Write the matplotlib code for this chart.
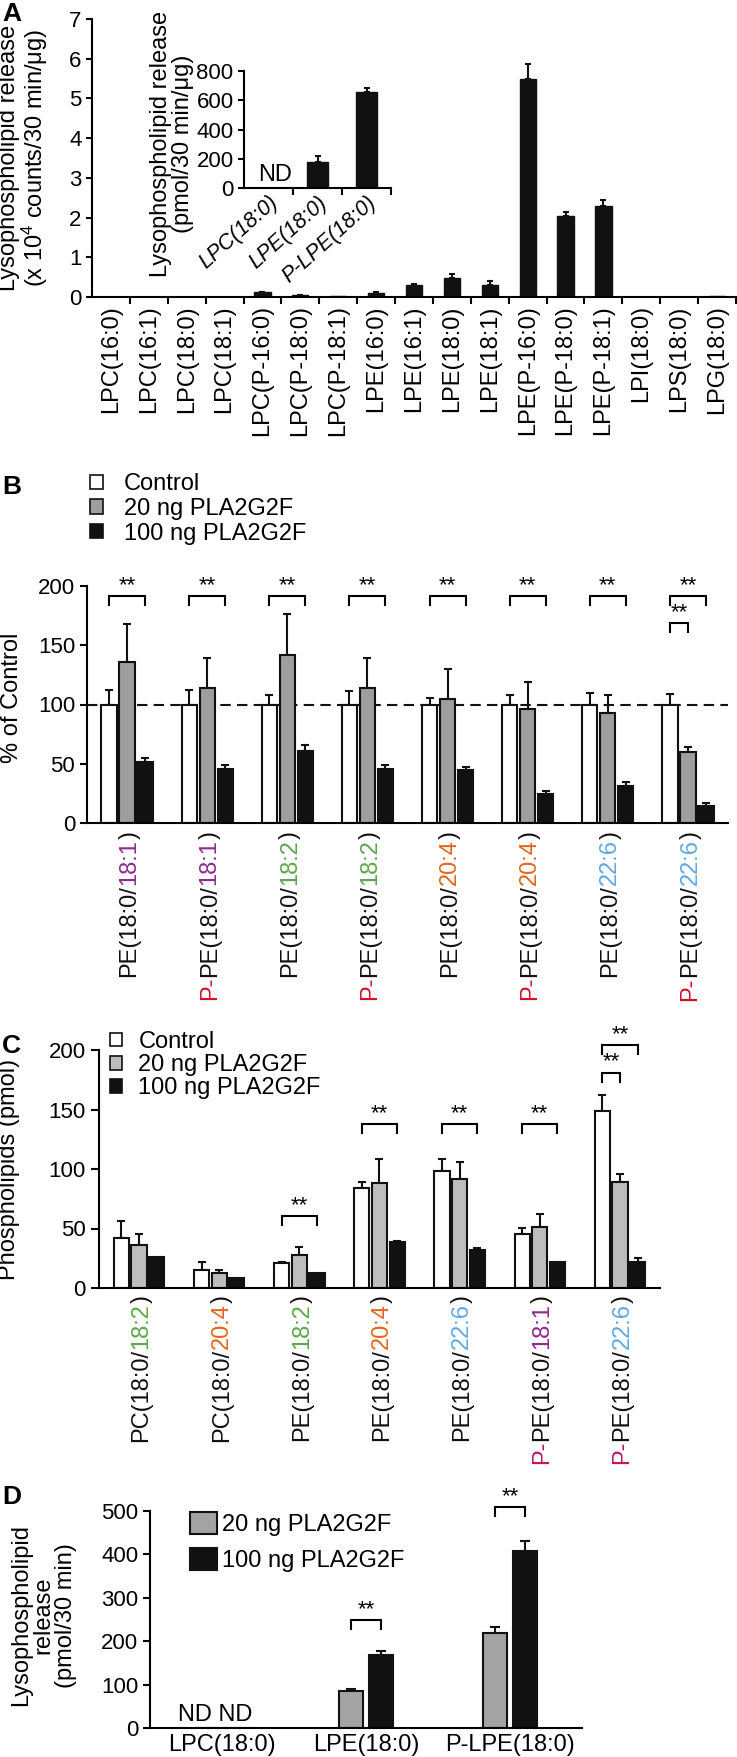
import matplotlib
matplotlib.use('Agg')
import numpy as np
import matplotlib.pyplot as plt
import matplotlib.transforms as mtransforms
from matplotlib.patches import Patch
from matplotlib.font_manager import FontProperties

# ---- data ----
a_labels = ['LPC(16:0)', 'LPC(16:1)', 'LPC(18:0)', 'LPC(18:1)', 'LPC(P-16:0)', 'LPC(P-18:0)',
            'LPC(P-18:1)', 'LPE(16:0)', 'LPE(16:1)', 'LPE(18:0)', 'LPE(18:1)', 'LPE(P-16:0)',
            'LPE(P-18:0)', 'LPE(P-18:1)', 'LPI(18:0)', 'LPS(18:0)', 'LPG(18:0)']
a_vals = [0, 0, 0, 0, 0.12, 0.05, 0.02, 0.10, 0.30, 0.47, 0.29, 5.50, 2.03, 2.30, 0, 0, 0.03]
a_err = [0, 0, 0, 0, 0.01, 0.01, 0, 0.02, 0.02, 0.11, 0.11, 0.37, 0.10, 0.14, 0, 0, 0]

inset_labels = ['LPC(18:0)', 'LPE(18:0)', 'P-LPE(18:0)']
inset_vals = [0, 177, 653]
inset_err = [0, 45, 34]

groups = ['Control', '20 ng PLA2G2F', '100 ng PLA2G2F']

b_class = ['PE', 'P-PE', 'PE', 'P-PE', 'PE', 'P-PE', 'PE', 'P-PE']
b_chain = ['18:1', '18:1', '18:2', '18:2', '20:4', '20:4', '22:6', '22:6']
b_ctrl = [100, 100, 100, 100, 100, 100, 100, 100]
b_ctrl_err = [12, 12, 8, 11, 5.5, 8, 10, 9]
b_20 = [136, 114, 142, 114, 105, 96, 93, 60]
b_20_err = [32, 25, 34, 25, 25, 23, 15, 4]
b_100 = [51.5, 45.5, 61, 45.5, 44.5, 24.5, 31.5, 14.5]
b_100_err = [3.5, 3.5, 4.5, 3.5, 2.5, 2.5, 3.5, 2.5]
# (group, bar a, bar b, bracket top)
b_sig = [(0, 0, 2, 191.5), (1, 0, 2, 191.5), (2, 0, 2, 191.5), (3, 0, 2, 191.5),
         (4, 0, 2, 191.5), (5, 0, 2, 191.5), (6, 0, 2, 191.5), (7, 0, 2, 191.5), (7, 0, 1, 168.5)]

c_class = ['PC', 'PC', 'PE', 'PE', 'PE', 'P-PE', 'P-PE']
c_chain = ['18:2', '20:4', '18:2', '20:4', '22:6', '18:1', '22:6']
c_ctrl = [41.7, 15.4, 21.4, 84, 98.3, 45, 148.6]
c_ctrl_err = [14.5, 6.2, 0.6, 4.7, 10, 5.5, 13.4]
c_20 = [36.3, 12.6, 27.8, 88.3, 91.4, 51.4, 89.4]
c_20_err = [9, 2.8, 6.9, 20.3, 14.4, 10.6, 6.2]
c_100 = [25.7, 8.8, 13, 39, 32, 22.2, 21.7]
c_100_err = [0, 0, 0, 0.8, 2, 0, 3.6]
c_sig = [(2, 0, 2, 60.5), (3, 0, 2, 138), (4, 0, 2, 138), (5, 0, 2, 138),
         (6, 0, 2, 204), (6, 0, 1, 181)]

d_labels = ['LPC(18:0)', 'LPE(18:0)', 'P-LPE(18:0)']
d_20 = [0, 84.5, 218]
d_20_err = [0, 4.5, 14]
d_100 = [0, 169, 407]
d_100_err = [0, 8, 23]
d_sig = [(1, 0, 1, 248), (2, 0, 1, 509)]

chain_col = {'18:1': '#8B2A8E', '18:2': '#5BA84A', '20:4': '#E0661E', '22:6': '#5FA8E6'}

plt.rcParams['font.family'] = ['Liberation Sans', 'DejaVu Sans']
plt.rcParams['mathtext.default'] = 'regular'
plt.rcParams['axes.linewidth'] = 1.5
plt.rcParams['xtick.major.width'] = 1.5
plt.rcParams['ytick.major.width'] = 1.5
plt.rcParams['xtick.minor.width'] = 1.5
plt.rcParams['xtick.labelsize'] = 16
plt.rcParams['ytick.labelsize'] = 16

W, H = 737, 1757
fig = plt.figure(figsize=(W / 100, H / 100), dpi=100)
renderer = fig.canvas.get_renderer()
CAT = 17


def add_ax(l, t, r, b):
    ax = fig.add_axes([l / W, 1 - b / H, (r - l) / W, (b - t) / H])
    ax.spines['top'].set_visible(False)
    ax.spines['right'].set_visible(False)
    return ax


def width_pt(s, fs):
    fp = FontProperties(family=plt.rcParams['font.family'], size=fs)
    w1 = renderer.get_text_width_height_descent('l' + s + 'l', fp, ismath=False)[0]
    w0 = renderer.get_text_width_height_descent('ll', fp, ismath=False)[0]
    return (w1 - w0) * 72 / fig.dpi


def color_label(ax, x, pieces, fs, pad):
    off = pad
    for s, c in reversed(pieces):
        ax.annotate(s, xy=(x, 0), xycoords=('data', 'axes fraction'),
                    xytext=(0.36 * fs, -off), textcoords='offset points',
                    rotation=90, rotation_mode='anchor', ha='right', va='baseline',
                    color=c, fontsize=fs, annotation_clip=False)
        off += width_pt(s, fs)


def bracket(ax, x1, x2, top, drop, fs=16):
    ax.plot([x1, x1, x2, x2], [top - drop, top, top, top - drop], color='k', lw=1.5,
            clip_on=False, solid_joinstyle='miter')
    ax.text((x1 + x2) / 2, top, '**', ha='center', va='bottom', fontsize=fs)


def errs(ax, x, v, e, cap):
    x = np.asarray(x, float); v = np.asarray(v, float); e = np.asarray(e, float)
    m = e > 0
    ax.errorbar(x[m], v[m], yerr=[np.zeros(m.sum()), e[m]], fmt='none', ecolor='#111111',
                elinewidth=1.5, capsize=cap, capthick=1.5, zorder=1.5)


# ---- panel A ----
axA = add_ax(92, 19, 736, 297)
xa = np.arange(len(a_labels))
axA.bar(xa, a_vals, width=0.43, color='#111111', edgecolor='#111111', zorder=2)
errs(axA, xa, a_vals, a_err, 2.5)
axA.set_xlim(-0.5, len(a_labels) - 0.5)
axA.set_ylim(0, 7)
axA.set_yticks(range(0, 8))
axA.set_xticks(xa)
axA.set_xticklabels(a_labels, rotation=90, fontsize=CAT)
axA.set_xticks(np.arange(0.5, len(a_labels), 1), minor=True)
axA.tick_params(axis='x', which='major', length=0, pad=6)
axA.tick_params(axis='x', which='minor', length=5, direction='out')
axA.tick_params(axis='y', length=4)
axA.set_ylabel('Lysophospholipid release\n(x 10$^4$ counts/30 min/μg)', fontsize=CAT, linespacing=1.0)
axA.yaxis.set_label_coords(-0.065, 0.5)
fig.text(2 / W, 1 - 2 / H, 'A', fontsize=19, fontweight='bold', ha='left', va='top')

axI = add_ax(244, 71, 391, 188)
xi = np.arange(3)
axI.bar(xi, inset_vals, width=0.43, color='#111111', edgecolor='#111111', zorder=2)
errs(axI, xi, inset_vals, inset_err, 2.5)
axI.set_xlim(-0.5, 2.5)
axI.set_ylim(0, 800)
axI.set_yticks(range(0, 801, 200))
axI.set_xticks(xi)
axI.set_xticklabels(inset_labels, rotation=42, ha='right', rotation_mode='anchor',
                    fontsize=15.5, fontstyle='italic')
shift = mtransforms.ScaledTranslation(16 / 72, 0, fig.dpi_scale_trans)
for lab in axI.get_xticklabels():
    lab.set_transform(lab.get_transform() + shift)
axI.set_xticks([0.5, 1.5, 2.5], minor=True)
axI.tick_params(axis='x', which='major', length=0, pad=3)
axI.tick_params(axis='x', which='minor', length=5, direction='out')
axI.tick_params(axis='y', length=4)
axI.text(0.14, 15, 'ND', ha='center', va='bottom', fontsize=CAT)
axI.set_ylabel('Lysophospholipid release\n(pmol/30 min/μg)', fontsize=CAT, linespacing=1.0)
axI.yaxis.set_label_coords(-0.34, 0.38)


def grouped(ax, ctrl, ce, g20, ge20, g100, ge100, gray, off, bw, cap):
    x = np.arange(len(ctrl))
    for k, (v, e, c) in enumerate([(ctrl, ce, 'white'), (g20, ge20, gray), (g100, ge100, '#111111')]):
        xx = x + (k - 1) * off
        ax.bar(xx, v, width=bw, color=c, edgecolor='#111111', linewidth=1.5, zorder=2)
        errs(ax, xx, v, e, cap)
    return x


# ---- panel B ----
axB = add_ax(87, 586, 728, 823)
offB = 0.225
xb = grouped(axB, b_ctrl, b_ctrl_err, b_20, b_20_err, b_100, b_100_err, '#9E9E9E', offB, 0.19, 3)
axB.axhline(100, color='#111111', lw=1.5, ls=(0, (5, 3)), zorder=1)
axB.set_xlim(-0.5, len(b_ctrl) - 0.5)
axB.set_ylim(0, 200)
axB.set_yticks(range(0, 201, 50))
axB.set_xticks([])
axB.tick_params(axis='y', length=5)
axB.set_ylabel('% of Control', fontsize=CAT)
axB.yaxis.set_label_coords(-0.1, 0.53)
for g, i, j, top in b_sig:
    bracket(axB, g + (i - 1) * offB, g + (j - 1) * offB, top, 7.5)
for i in range(len(b_class)):
    pieces = []
    if b_class[i].startswith('P-'):
        pieces.append(('P-', '#D0112B'))
    pieces += [('PE(18:0/', '#111111'), (b_chain[i], chain_col[b_chain[i]]), (')', '#111111')]
    color_label(axB, xb[i], pieces, CAT, 6)
handles = [Patch(facecolor=c, edgecolor='#111111', linewidth=1.2)
           for c in ['white', '#9E9E9E', '#111111']]
axB.legend(handles, groups, loc='upper left', bbox_to_anchor=(90 / W, 1 - 473 / H),
           bbox_transform=fig.transFigure, frameon=False, fontsize=CAT, handlelength=0.55,
           handleheight=0.55, handletextpad=0.9, labelspacing=0.12, borderpad=0, borderaxespad=0)
fig.text(2 / W, 1 - 487 / H, 'B', fontsize=19, fontweight='bold', ha='left', va='center')

# ---- panel C ----
axC = add_ax(99, 1050, 660, 1288)
offC = 0.22
xc = grouped(axC, c_ctrl, c_ctrl_err, c_20, c_20_err, c_100, c_100_err, '#BDBDBD', offC, 0.19, 3)
axC.set_xlim(-0.5, len(c_ctrl) - 0.5)
axC.set_ylim(0, 200)
axC.set_yticks(range(0, 201, 50))
axC.set_xticks([])
axC.tick_params(axis='y', length=6)
axC.set_ylabel('Phospholipids (pmol)', fontsize=CAT)
axC.yaxis.set_label_coords(-0.14, 0.5)
for g, i, j, top in c_sig:
    bracket(axC, g + (i - 1) * offC, g + (j - 1) * offC, top, 7.5)
for i in range(len(c_class)):
    pieces = []
    if c_class[i].startswith('P-'):
        pieces.append(('P-', '#C0185C'))
    pieces += [(c_class[i][-2:] + '(18:0/', '#111111'), (c_chain[i], chain_col[c_chain[i]]), (')', '#111111')]
    color_label(axC, xc[i], pieces, CAT, 5)
handles = [Patch(facecolor=c, edgecolor='#111111', linewidth=1.2)
           for c in ['white', '#BDBDBD', '#111111']]
axC.legend(handles, groups, loc='upper left', bbox_to_anchor=(110 / W, 1 - 1031 / H),
           bbox_transform=fig.transFigure, frameon=False, fontsize=CAT, handlelength=0.5,
           handleheight=0.5, handletextpad=0.7, labelspacing=0.05, borderpad=0, borderaxespad=0)
fig.text(2 / W, 1 - 1046 / H, 'C', fontsize=19, fontweight='bold', ha='left', va='center')

# ---- panel D ----
axD = add_ax(150, 1511, 582, 1728)
offD = 0.104
xd = np.arange(len(d_labels))
for k, (v, e, c) in enumerate([(d_20, d_20_err, '#A3A3A3'), (d_100, d_100_err, '#111111')]):
    xx = xd + (k - 0.5) * 2 * offD
    axD.bar(xx, v, width=0.167, color=c, edgecolor='#111111', linewidth=1.5, zorder=2)
    errs(axD, xx, v, e, 3.5)
axD.set_xlim(-0.5, len(d_labels) - 0.5)
axD.set_ylim(0, 500)
axD.set_yticks(range(0, 501, 100))
axD.set_xticks(xd)
axD.set_xticklabels(d_labels, fontsize=CAT)
axD.tick_params(axis='x', length=0, pad=4)
axD.tick_params(axis='y', length=5)
axD.text(xd[0] - 0.05, 5, 'ND ND', ha='center', va='bottom', fontsize=CAT)
for g, i, j, top in d_sig:
    bracket(axD, g + (i - 0.5) * 2 * offD, g + (j - 0.5) * 2 * offD, top, 20)
axD.set_ylabel('Lysophospholipid\nrelease\n(pmol/30 min)', fontsize=CAT, linespacing=1.0)
axD.yaxis.set_label_coords(-0.17, 0.52)
handles = [Patch(facecolor=c, edgecolor='#111111', linewidth=1.5) for c in ['#A3A3A3', '#111111']]
axD.legend(handles, groups[1:], loc='upper left', bbox_to_anchor=(190 / W, 1 - 1512 / H),
           bbox_transform=fig.transFigure, frameon=False, fontsize=CAT, handlelength=1.15,
           handleheight=1.05, handletextpad=0.2, labelspacing=0.5, borderpad=0, borderaxespad=0)
fig.text(2 / W, 1 - 1497 / H, 'D', fontsize=19, fontweight='bold', ha='left', va='center')

fig.savefig('out.png', dpi=100)
